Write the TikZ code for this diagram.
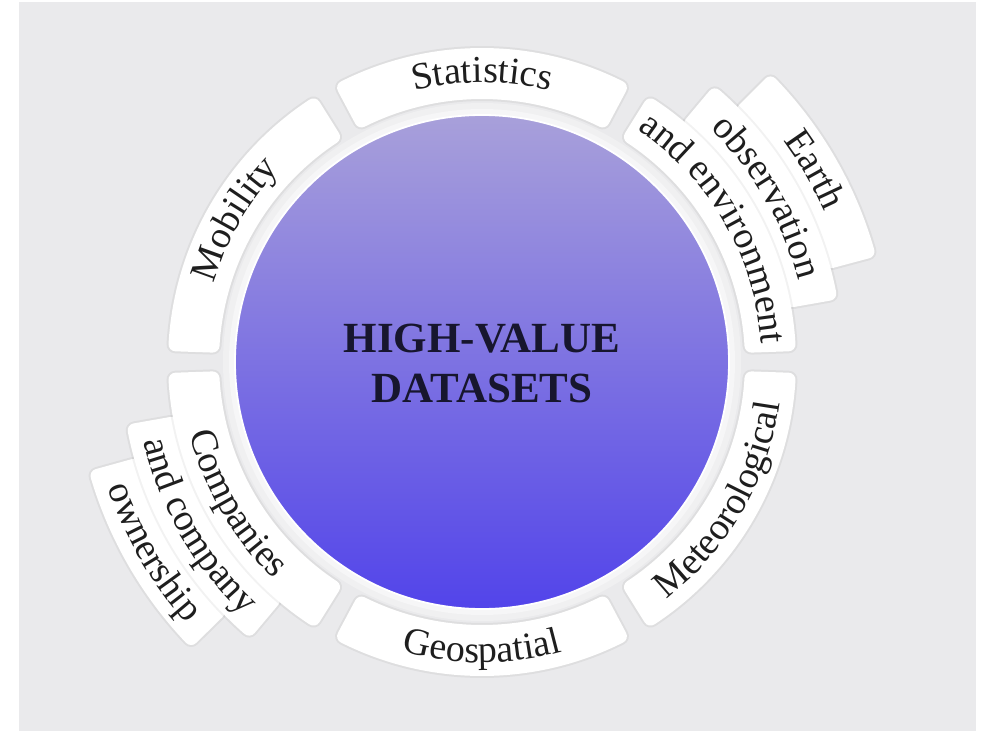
\documentclass[tikz,border=0pt]{standalone}
\usepackage{fontspec}
\setmainfont{Liberation Serif}
\usetikzlibrary{decorations.text}
\definecolor{bg}{HTML}{EAEAEC}
\definecolor{glowA}{HTML}{F0F0F1}
\definecolor{glowB}{HTML}{F6F6F7}
\definecolor{ctop}{HTML}{A8A0DA}
\definecolor{cmid}{HTML}{8E86E2}
\definecolor{cbot}{HTML}{5244EA}
\definecolor{txt}{HTML}{1E1E1E}
\definecolor{navy}{HTML}{17162E}
\newcommand{\lblfont}{\fontsize{38}{44}\selectfont}
\tikzset{
  bandshadow/.style={draw=black, fill=black, opacity=0.05, line width=18pt, line join=round},
  bandfill/.style={draw=white, fill=white, line width=14pt, line join=round},
}
% a1 a2 r1 r2 style
\newcommand{\hvband}[5]{%
  \path[#5] ({#1+deg(7/(#3+7))}:{#3+7})
    arc[start angle={#1+deg(7/(#3+7))}, end angle={#2-deg(7/(#3+7))}, radius={#3+7}]
    -- ({#2-deg(7/(#4-7))}:{#4-7})
    arc[start angle={#2-deg(7/(#4-7))}, end angle={#1+deg(7/(#4-7))}, radius={#4-7}]
    -- cycle;}
\newcommand{\hvbandfull}[4]{\hvband{#1}{#2}{#3}{#4}{bandshadow}\hvband{#1}{#2}{#3}{#4}{bandfill}}
% centre angle, baseline radius, text
\newcommand{\outtext}[3]{%
  \path[decorate, decoration={text along path, text align=center, text color=txt, text={|\lblfont|#3}}]
    ({#1+60}:#2) arc[start angle={#1+60}, end angle={#1-60}, radius=#2];}
\newcommand{\intext}[3]{%
  \path[decorate, decoration={text along path, text align=center, text color=txt, text={|\lblfont|#3}}]
    ({#1-60}:#2) arc[start angle={#1-60}, end angle={#1+60}, radius=#2];}
\begin{document}
\begin{tikzpicture}[x=1pt,y=1pt]
\useasboundingbox (0,0) rectangle (989,-731);
\fill[white] (0,0) rectangle (989,-731);
\fill[bg] (19,-2) rectangle (976,-731);
\begin{scope}[shift={(482,-362)}]
  % glow ring
  \fill[glowA] (0,0) circle (259);
  \fill[glowB] (0,0) circle (253);
  % bands (outer first)
  \hvbandfull{15}{45}{357}{408}
  \hvbandfull{10}{50}{310}{361}
  \hvbandfull{2}{58}{263}{314}
  \hvbandfull{195.5}{224.5}{357}{408}
  \hvbandfull{190}{230}{310}{361}
  \hvbandfull{182}{238}{263}{314}
  \hvbandfull{62}{118}{263}{314}
  \hvbandfull{122}{178}{263}{314}
  \hvbandfull{242}{298}{263}{314}
  \hvbandfull{302}{358}{263}{314}
  % circle
  \shade[shading angle=-25, top color=ctop, middle color=cmid, bottom color=cbot] (0,0) circle (247);
  \draw[white, line width=1.8pt] (0,0) circle (247);
  % labels
  \outtext{90}{279.5}{Statistics}
  \outtext{150}{279.5}{Mobility}
  \outtext{30}{373.5}{Earth}
  \outtext{30}{326.5}{observation}
  \outtext{30}{279.5}{and environment}
  \intext{270}{300.5}{Geospatial}
  \intext{330}{300.5}{Meteorological}
  \intext{210}{300.5}{Companies}
  \intext{210}{347.5}{and company}
  \intext{210}{394.5}{ownership}
  \node[font=\bfseries\fontsize{43}{50}\selectfont, text=navy, align=center] (title) at (0,-1) {HIGH-VALUE\\DATASETS};
\end{scope}
\end{tikzpicture}
\end{document}
